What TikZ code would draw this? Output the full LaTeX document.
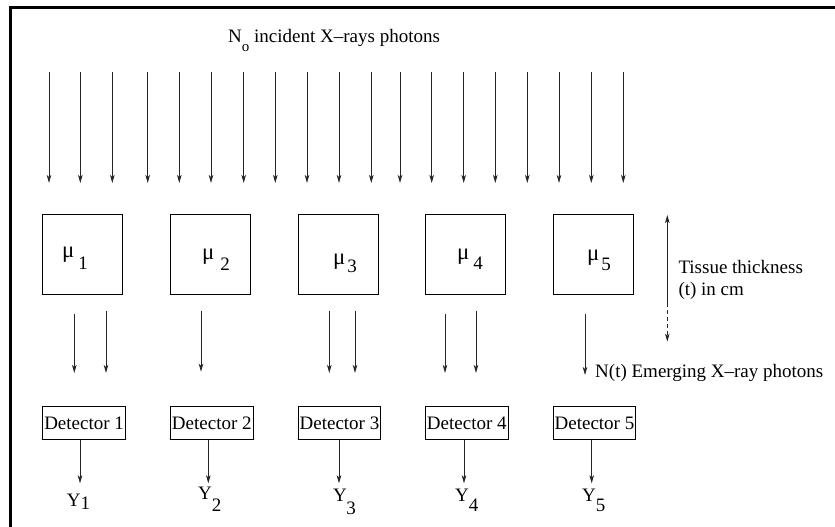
\documentclass[tikz,border=0pt]{standalone}
\usepackage{fontspec}
\setmainfont{Liberation Serif}
\usetikzlibrary{arrows.meta}
\begin{document}
\begin{tikzpicture}[x=1pt,y=-1pt,
  arr/.style={line width=0.9pt, draw=black!85, -{Stealth[length=8pt,width=4.5pt,inset=2pt]}},
  lbl/.style={inner sep=0pt, anchor=base west, font=\fontsize{19}{22}\selectfont},
  mubox/.style={draw, line width=0.9pt, minimum width=80pt, minimum height=80pt, anchor=north west, inner sep=0pt},
  detbox/.style={draw, line width=0.9pt, minimum height=33pt, inner xsep=1.5pt, inner ysep=0pt, anchor=north west, font=\fontsize{19}{22}\selectfont},
  frame/.style={line width=2.5pt, draw=black}]
\useasboundingbox (0,0) rectangle (835,527);
% frame (top and left only)
\draw[frame] (10.7,527) -- (10.7,7.5) -- (835,7.5);
% title
\node[lbl] (title) at (228,43) {N\raisebox{-9pt}{\fontsize{15}{15}\selectfont o} incident X–rays photons};
% incident arrows
\foreach \x [count=\i] in {49,80.3,112.3,147.7,179.3,211,243.7,275.3,307,339,371.3,400,431.7,463.7,495.3,527.3,559,591.3,623.3} {
  \coordinate (ia\i) at (\x,72);
  \coordinate (ib\i) at (\x,183);
  \draw[arr] (ia\i) -- (ib\i);
}
% tissue boxes
\node[mubox] (box1) at (42.3,214.3) {};
\node[mubox] (box2) at (170,214.3) {};
\node[mubox] (box3) at (297.7,214.3) {};
\node[mubox] (box4) at (425,214.3) {};
\node[mubox] (box5) at (552.7,214.3) {};
% mu labels
\node[lbl] (mu1) at (62,257) {\scalebox{1.2}{μ}\hspace{4pt}\raisebox{-12pt}{1}};
\node[lbl] (mu2) at (202,259.5) {\scalebox{1.2}{μ}\hspace{6pt}\raisebox{-10.5pt}{2}};
\node[lbl] (mu3) at (333,264) {\scalebox{1.2}{μ}\hspace{2pt}\raisebox{-8pt}{3}};
\node[lbl] (mu4) at (457,259.5) {\scalebox{1.2}{μ}\hspace{4pt}\raisebox{-9.5pt}{4}};
\node[lbl] (mu5) at (587,260) {\scalebox{1.2}{μ}\hspace{2pt}\raisebox{-10pt}{5}};
% thickness arrow
\coordinate (thTop) at (667.3,215);
\coordinate (thMid) at (667.3,303);
\coordinate (thBot) at (667.3,341.7);
\draw[arr] (thMid) -- (thTop);
\draw[arr, dash pattern=on 4pt off 3pt] (thMid) -- (thBot);
\node[lbl] (t1) at (678.3,273) {Tissue thickness};
\node[lbl] (t2) at (678.3,295) {(t) in cm};
% emerging arrows
\foreach \x/\ya/\yb [count=\i] in {74.3/314/373, 106/310.7/373, 201/310.7/371.7, 329.3/310.7/373, 355/310.7/373, 445/314/373, 476/310.7/373, 585/314/375} {
  \coordinate (ea\i) at (\x,\ya);
  \coordinate (eb\i) at (\x,\yb);
  \draw[arr] (ea\i) -- (eb\i);
}
\node[lbl] (emerg) at (595,377) {N(t) Emerging X–ray photons};
% detectors
\node[detbox] (d1) at (42.3,406) {Detector 1};
\node[detbox] (d2) at (170,406) {Detector 2};
\node[detbox] (d3) at (297.7,406) {Detector 3};
\node[detbox] (d4) at (425,406) {Detector 4};
\node[detbox] (d5) at (552.7,406) {Detector 5};
% outputs
\node[lbl] (y1) at (66.7,506.7) {Y\raisebox{-2.5pt}{1}};
\node[lbl] (y2) at (198,499.5) {Y\raisebox{-12pt}{2}};
\node[lbl] (y3) at (333,501.7) {Y\hspace{-0.5pt}\raisebox{-13pt}{3}};
\node[lbl] (y4) at (455,501.7) {Y\raisebox{-10pt}{4}};
\node[lbl] (y5) at (582,501.7) {Y\raisebox{-10pt}{5}};
\foreach \x [count=\i] in {80,208.3,339,464,591.7} {
  \coordinate (dt\i) at (\x,483.3);
  \draw[arr] (dt\i |- d\i.south) -- (dt\i);
}
\end{tikzpicture}
\end{document}
